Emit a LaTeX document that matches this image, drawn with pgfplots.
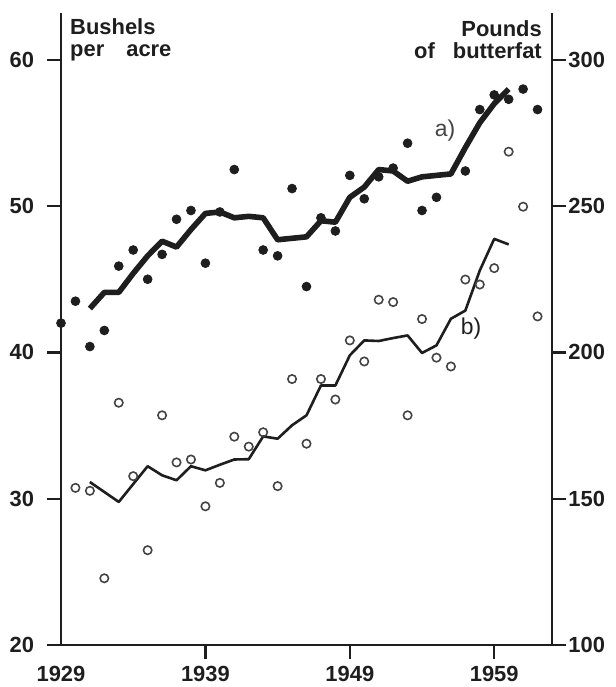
\documentclass[border=0pt]{standalone}
\usepackage{fontspec}
\setmainfont{Liberation Sans}
\usepackage{pgfplots}
\pgfplotsset{compat=1.18}

\definecolor{ink}{HTML}{1E1E1E}
\definecolor{inkgray}{HTML}{444444}

\pgfplotsset{
  common/.style={
    at={(0,0)}, anchor=south west,
    scale only axis, width=245.5bp, height=316bp,
    xmin=1929, xmax=1963,
    tick align=outside, major tick length=7bp,
    axis line style={line width=1.2bp, ink},
    tick style={line width=1.2bp, ink},
    /pgf/number format/assume math mode=true,
    /pgf/number format/1000 sep={},
    tick label style={font=\fontsize{11}{11}\selectfont\bfseries, text=ink},
    clip=false,
  }
}

\begin{document}
\begin{tikzpicture}[x=1bp,y=1bp]
\useasboundingbox (-30.5,-21) rectangle (277.5,322.5);

% left axis: bushels per acre
\begin{axis}[common,
  ymin=20, ymax=63.2,
  axis x line*=bottom, axis y line*=left,
  xtick={1939,1949,1959},
  extra x ticks={1929}, extra x tick style={tick style={draw=none}},
  ytick={20,30,40,50,60},
  yticklabel style={xshift=-3bp},
]
\addplot[line width=2.8bp, ink, line join=round] coordinates {
 (1931,43.0) (1932,44.1) (1933,44.1) (1934,45.4) (1935,46.6) (1936,47.6)
 (1937,47.2) (1938,48.4) (1939,49.5) (1940,49.6) (1941,49.2) (1942,49.3)
 (1943,49.2) (1944,47.7) (1945,47.8) (1946,47.9) (1947,49.0) (1948,48.9)
 (1949,50.6) (1950,51.3) (1951,52.5) (1952,52.4) (1953,51.7) (1954,52.0)
 (1955,52.1) (1956,52.2) (1957,54.0) (1958,55.7) (1959,57.0) (1960,58.0)
};
\addplot[only marks, mark=*, mark size=2.2bp, ink] coordinates {
 (1929,42.0) (1930,43.5) (1931,40.4) (1932,41.5) (1933,45.9) (1934,47.0)
 (1935,45.0) (1936,46.7) (1937,49.1) (1938,49.7) (1939,46.1) (1940,49.6)
 (1941,52.5) (1943,47.0) (1944,46.6) (1945,51.2) (1946,44.5) (1947,49.2)
 (1948,48.3) (1949,52.1) (1950,50.5) (1951,52.0) (1952,52.6) (1953,54.3)
 (1954,49.7) (1955,50.6) (1957,52.4) (1958,56.6) (1959,57.6) (1960,57.3)
 (1961,58.0) (1962,56.6)
};
\node[anchor=north west, inner sep=0, align=left, text=ink,
  font=\fontsize{11}{11}\selectfont\bfseries] at (rel axis cs:0.018,0.992)
  {Bushels\\per\hspace{11bp}acre};
\node[text=inkgray, font=\fontsize{11.5}{12}\selectfont] at (axis cs:1955.6,55.15) {a)};
\node[text=ink, font=\fontsize{11.5}{12}\selectfont] at (axis cs:1957.4,41.6) {b)};
\end{axis}

% right axis: pounds of butterfat
\begin{axis}[common,
  ymin=100, ymax=316,
  axis x line=none, axis y line*=right,
  ytick={100,150,200,250,300},
  yticklabel style={inner xsep=1bp},
]
\addplot[line width=1.3bp, ink, line join=round] coordinates {
 (1931,155.7) (1932,152.3) (1933,148.9) (1934,155.0) (1935,161.1) (1936,158.0)
 (1937,156.3) (1938,161.1) (1939,159.7) (1940,161.6) (1941,163.4) (1942,163.5)
 (1943,171.3) (1944,170.5) (1945,175.1) (1946,178.5) (1947,188.7) (1948,188.7)
 (1949,199.0) (1950,204.1) (1951,203.9) (1952,204.9) (1953,205.8) (1954,199.8)
 (1955,202.4) (1956,211.5) (1957,214.3) (1958,228.0) (1959,238.8) (1960,236.9)
};
\addplot[only marks, mark=o, mark size=2.1bp, mark options={line width=0.8bp}, inkgray] coordinates {
 (1930,153.7) (1931,152.7) (1932,122.8) (1933,182.8) (1934,157.7) (1935,132.4)
 (1936,178.5) (1937,162.4) (1938,163.4) (1939,147.4) (1940,155.4) (1941,171.2)
 (1942,167.8) (1943,172.7) (1944,154.3) (1945,190.9) (1946,168.8) (1947,190.9)
 (1948,183.9) (1949,204.1) (1950,196.9) (1951,218.0) (1952,217.2) (1953,178.5)
 (1954,211.4) (1955,198.2) (1956,195.2) (1957,224.9) (1958,223.2) (1959,228.8)
 (1960,268.6) (1961,249.8) (1962,212.3)
};
\node[anchor=north east, inner sep=0, align=right, text=ink,
  font=\fontsize{11}{11}\selectfont\bfseries] at (rel axis cs:0.98,0.989)
  {Pounds\\of\hspace{9bp}butterfat};
\end{axis}
\end{tikzpicture}
\end{document}
